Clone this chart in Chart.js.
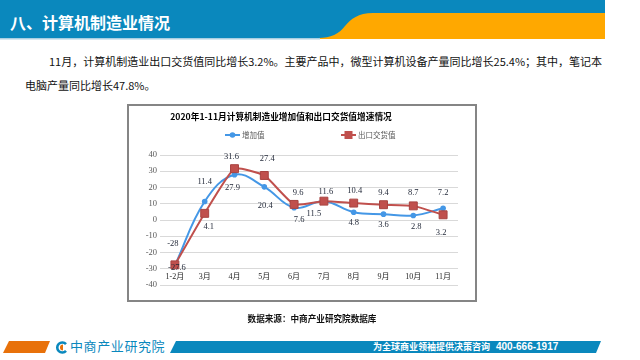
<!DOCTYPE html>
<html><head><meta charset="utf-8">
<script src="https://cdn.jsdelivr.net/npm/chart.js@4.4.1/dist/chart.umd.min.js"></script>
<style>
html,body{margin:0;padding:0;background:#fff;}
body{width:640px;height:360px;position:relative;overflow:hidden;font-family:"Noto Sans CJK SC","Noto Sans",sans-serif;}
.abs{position:absolute;}
#htitle{left:10px;top:12px;height:20px;line-height:20px;font-size:16px;font-weight:700;color:#fff;white-space:nowrap;}
#para{left:25px;top:50px;font-size:11px;line-height:23.5px;color:#111;white-space:nowrap;}
#para .ind{padding-left:24px;}
#box{left:127px;top:104px;width:350px;height:198px;border:2px solid #858585;box-sizing:border-box;}
#src{left:212px;top:311px;width:200px;text-align:center;font-size:8.6px;font-weight:700;color:#111;line-height:14px;white-space:nowrap;}
#logo{left:70px;top:338px;font-size:13px;letter-spacing:0.6px;color:#0a88bd;line-height:16px;white-space:nowrap;}
#slogan{left:373px;top:340px;font-size:9px;font-weight:700;color:#fff;line-height:13px;white-space:nowrap;}
#phone{left:496px;top:340px;font-family:"Liberation Sans",Arial,sans-serif;font-size:10px;font-weight:700;color:#fff;line-height:13px;white-space:nowrap;}
</style></head>
<body>
<svg class="abs" style="left:0;top:0" width="640" height="45">
  <rect x="318" y="13" width="287" height="26" fill="#ffa800"/>
  <path d="M0,0 H605 V13 H373 C358,13 351,19 345,26 C339,34 331,38 318,38 H0 Z" fill="#0a88bd"/>
  <rect x="0" y="38" width="320" height="1.5" fill="#a9cfe2"/>
</svg>
<div id="htitle" class="abs">八、计算机制造业情况</div>
<div id="para" class="abs"><span class="ind">11月，计算机制造业出口交货值同比增长3.2%。主要产品中，微型计算机设备产量同比增长25.4%；其中，笔记本</span><br>电脑产量同比增长47.8%。</div>

<canvas id="c" class="abs" width="348" height="196" style="left:128px;top:105px;width:348px;height:196px"></canvas>
<div id="box" class="abs"></div>
<div id="src" class="abs">数据来源：中商产业研究院数据库</div>

<svg class="abs" style="left:0;top:340px" width="640" height="16">
  <polygon points="9,1 50,1 45,13 3,13" fill="#e8710a"/>
  <polygon points="176,1 601,1 596,13 170,13" fill="#0a88bd"/>
  <path d="M66,4.2 A5,5 0 1 0 66,10.8" fill="none" stroke="#0a88bd" stroke-width="2.6"/>
  <path d="M63,4.5 A3,3 0 0 0 63,10.5 Z" fill="#e8710a"/>
</svg>
<div id="logo" class="abs">中商产业研究院</div>
<div id="slogan" class="abs">为全球商业领袖提供决策咨询</div>
<div id="phone" class="abs">400-666-1917</div>

<script>
// ---- data ----
const categories = ['1-2月','3月','4月','5月','6月','7月','8月','9月','10月','11月'];
const valueAdded = [-28, 11.4, 27.9, 20.4, 7.6, 11.5, 4.8, 3.6, 2.8, 7.2];      // 增加值
const exportValue = [-27.6, 4.1, 31.6, 27.4, 9.6, 11.6, 10.4, 9.4, 8.7, 3.2];   // 出口交货值
const seriesNames = ['增加值', '出口交货值'];
const chartTitle = '2020年1-11月计算机制造业增加值和出口交货值增速情况';
const yMin = -40, yMax = 40, yStep = 10;

// label placement (style only)
const labelDx = [[-2,0,-2,1,5,-10,0,0,3,0],[2,4,-3,3,4,2,1,0,0,-2]];
const labelDy = [[-22,-20,13,19,12,12,11,11,11,-16],[3,13,-12,-17,-12,-9,-12,-12,-13,18]];

const BLUE = '#4497e6', RED = '#c0504d';
const NUMFONT = '8.5px "Liberation Serif", "Noto Sans CJK SC", serif';

const decor = {
  id: 'decor',
  afterDatasetsDraw(chart) {
    const ctx = chart.ctx, xs = chart.scales.x, ys = chart.scales.y;
    ctx.save();
    ctx.textAlign = 'center';
    ctx.textBaseline = 'middle';
    // category labels
    ctx.font = '8px "Liberation Serif", "Noto Sans CJK SC", serif';
    ctx.fillStyle = '#262626';
    const ly = ys.getPixelForValue(-35);
    categories.forEach((c, i) => ctx.fillText(c, xs.getPixelForValue(i), ly));
    // data labels
    ctx.font = NUMFONT;
    ctx.fillStyle = '#1f2636';
    chart.data.datasets.forEach((ds, di) => {
      const meta = chart.getDatasetMeta(di);
      meta.data.forEach((pt, i) => {
        ctx.fillText(String(ds.data[i]), pt.x + labelDx[di][i], pt.y + labelDy[di][i]);
      });
    });
    // title
    ctx.font = 'bold 8.7px "Noto Sans CJK SC", sans-serif';
    ctx.fillStyle = '#000';
    ctx.fillText(chartTitle, 153, 12);
    // legend
    const items = [{x0: 97, ds: chart.data.datasets[0]}, {x0: 213, ds: chart.data.datasets[1]}];
    items.forEach((it, k) => {
      const y = 30;
      ctx.strokeStyle = it.ds.borderColor;
      ctx.lineWidth = 2;
      ctx.beginPath(); ctx.moveTo(it.x0, y); ctx.lineTo(it.x0 + 15, y); ctx.stroke();
      ctx.fillStyle = it.ds.backgroundColor;
      if (k === 0) { ctx.beginPath(); ctx.arc(it.x0 + 7.5, y, 2.8, 0, Math.PI * 2); ctx.fill(); }
      else { ctx.fillRect(it.x0 + 3.5, y - 4, 8, 8); }
      ctx.font = '7.5px "Noto Sans CJK SC", sans-serif';
      ctx.fillStyle = '#595959';
      ctx.textAlign = 'left';
      ctx.fillText(it.ds.label, it.x0 + 17, y);
      ctx.textAlign = 'center';
    });
    ctx.restore();
  }
};

new Chart(document.getElementById('c'), {
  type: 'line',
  data: {
    labels: categories,
    datasets: [
      {label: seriesNames[0], data: valueAdded, borderColor: BLUE, backgroundColor: BLUE,
       borderWidth: 2, tension: 0.4, pointStyle: 'circle', pointRadius: 2.8, pointBorderWidth: 0, order: 1},
      {label: seriesNames[1], data: exportValue, borderColor: RED, backgroundColor: RED,
       pointBorderColor: '#a84340', borderWidth: 2, tension: 0.15, pointStyle: 'rect', pointRadius: 5.6, pointBorderWidth: 1, order: 0}
    ]
  },
  options: {
    responsive: false, animation: false, devicePixelRatio: 1,
    layout: {padding: {left: 0, right: 18, top: 50, bottom: 16}},
    plugins: {legend: {display: false}, title: {display: false}, tooltip: {enabled: false}},
    scales: {
      x: {type: 'category', display: false, offset: true},
      y: {min: yMin, max: yMax,
          ticks: {stepSize: yStep, padding: 3, color: '#595959', font: {family: 'Liberation Serif', size: 8.5}},
          grid: {color: '#d9d9d9', lineWidth: 1, drawTicks: false},
          border: {display: false},
          afterFit(s) { s.width = 32; }}
    }
  },
  plugins: [decor]
});
</script>
</body></html>
